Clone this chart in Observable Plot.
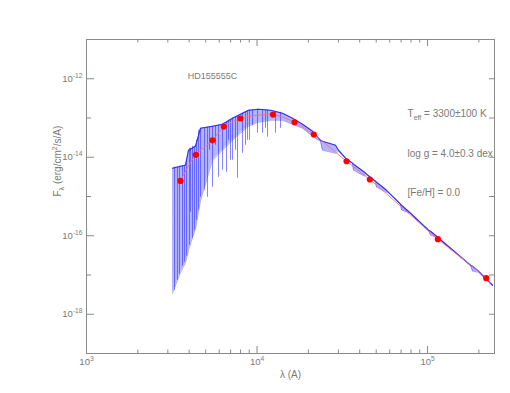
<!DOCTYPE html>
<html>
<head>
<meta charset="utf-8">
<script src="https://cdn.jsdelivr.net/npm/d3@7"></script>
<script src="https://cdn.jsdelivr.net/npm/@observablehq/plot@0.6"></script>
<style>
  html, body { margin: 0; padding: 0; background: #ffffff; }
  #chart svg { display: block; }
</style>
</head>
<body>
<div id="chart"></div>
<script>
// ---------- Model spectrum (upper envelope and lower envelope of the absorption forest), Å and erg/cm²/s/Å
const specWave = [3193, 3559, 3807, 3965, 4359, 4664, 5483, 6277, 7184, 8003, 8917, 10205, 12003, 14112, 16152, 18492, 21165, 22951, 23580, 24228, 28875, 30060, 33040, 36316, 36810, 42710, 43880, 49550, 50230, 57460, 59050, 69440, 70390, 79480, 101370, 104100, 112900, 178700, 183600, 199100, 240500];
const specHigh = [5.25e-15, 5.90e-15, 6.25e-15, 1.51e-14, 1.91e-14, 5.48e-14, 6.17e-14, 6.93e-14, 9.86e-14, 1.247e-13, 1.58e-13, 1.67e-13, 1.58e-13, 1.32e-13, 9.86e-14, 6.93e-14, 4.59e-14, 3.05e-14, 2.71e-14, 2.56e-14, 2.02e-14, 1.51e-14, 9.44e-15, 7.03e-15, 6.64e-15, 4.15e-15, 3.69e-15, 2.45e-15, 2.31e-15, 1.44e-15, 1.28e-15, 6.35e-16, 5.98e-16, 3.74e-16, 1.38e-16, 1.30e-16, 9.71e-17, 1.77e-17, 1.67e-17, 1.25e-17, 5.48e-18];
const specLow  = [3.43e-18, 1.17e-17, 2.11e-17, 4.28e-17, 1.55e-16, 8.02e-16, 8.39e-15, 1.51e-14, 2.71e-14, 4.09e-14, 6.17e-14, 7.80e-14, 8.77e-14, 8.77e-14, 6.93e-14, 5.48e-14, 3.43e-14, 2.71e-14, 2.56e-14, 1.51e-14, 1.26e-14, 1.42e-14, 9.44e-15, 7.03e-15, 4.67e-15, 3.28e-15, 3.69e-15, 2.31e-15, 1.72e-15, 1.28e-15, 1.28e-15, 6.35e-16, 4.47e-16, 3.74e-16, 1.38e-16, 1.03e-16, 9.16e-17, 1.77e-17, 1.25e-17, 1.17e-17, 5.48e-18];

// ---------- Individual strong absorption lines
const lineWave   = [3282, 3418, 3512, 3656, 3757, 3860, 4019, 4074, 4185, 4299, 4419, 4539, 4664, 4922, 5126, 5266, 5483, 5709, 5946, 6277, 6625, 6804, 6992, 7184, 7480, 7686, 8222, 8561, 8797, 9038, 9410, 10068, 10772, 11220, 11524, 12840, 13735];
const lineTop    = [5.57e-15, 5.57e-15, 5.90e-15, 5.90e-15, 6.25e-15, 8.39e-15, 1.70e-14, 1.70e-14, 1.91e-14, 1.91e-14, 2.71e-14, 4.88e-14, 5.48e-14, 5.48e-14, 5.81e-14, 5.81e-14, 6.17e-14, 6.17e-14, 6.53e-14, 6.93e-14, 7.80e-14, 8.77e-14, 8.77e-14, 9.86e-14, 1.045e-13, 1.109e-13, 1.32e-13, 1.40e-13, 1.486e-13, 1.58e-13, 1.58e-13, 1.67e-13, 1.67e-13, 1.58e-13, 1.58e-13, 1.486e-13, 1.40e-13];
const lineBottom = [4.08e-18, 7.35e-18, 1.04e-17, 1.67e-17, 2.11e-17, 3.01e-17, 5.73e-17, 3.97e-16, 8.63e-17, 1.38e-16, 2.48e-16, 4.47e-16, 9.57e-16, 1.44e-15, 9.57e-16, 1.51e-14, 1.72e-15, 2.02e-14, 3.09e-15, 4.67e-15, 4.15e-15, 2.71e-14, 8.39e-15, 8.39e-15, 1.51e-14, 2.92e-15, 1.26e-14, 2.02e-14, 2.71e-14, 2.71e-14, 6.53e-14, 4.09e-14, 4.09e-14, 5.48e-14, 3.24e-14, 4.09e-14, 5.48e-14];

// ---------- Photometry (red dots)
const photWave = [3556, 4375, 5483, 6385, 8000, 12400, 16600, 21530, 33500, 45900, 115000, 221000];
const photFlux = [2.49e-15, 1.15e-14, 2.71e-14, 6.05e-14, 9.7e-14, 1.22e-13, 7.8e-14, 3.8e-14, 7.9e-15, 2.71e-15, 8.2e-17, 8.3e-18];

// ---------- Smooth fitted model (red line)
const modelWave = [3556, 4375, 5483, 6385, 8000, 9934, 12400, 16600, 21530, 33500, 45900, 69440, 115000, 221000, 234100];
const modelFlux = [2.49e-15, 1.15e-14, 2.71e-14, 6.05e-14, 9.7e-14, 1.17e-13, 1.22e-13, 7.8e-14, 3.8e-14, 7.9e-15, 2.71e-15, 5.65e-16, 8.2e-17, 8.3e-18, 5.81e-18];

// ---------- Axes
const xMajor = [1e3, 1e4, 1e5];
const xMajorLabels = ["10^{3}", "10^{4}", "10^{5}"];
const xMinor = [2e3, 3e3, 4e3, 5e3, 6e3, 7e3, 8e3, 9e3, 2e4, 3e4, 4e4, 5e4, 6e4, 7e4, 8e4, 9e4, 2e5];
const yLabelled = [1e-12, 1e-14, 1e-16, 1e-18];
const yLabels = ["10^{-12}", "10^{-14}", "10^{-16}", "10^{-18}"];
const yOther = [1e-19, 1e-17, 1e-15, 1e-13, 1e-11];
const xTitle = "λ (A)";
const yTitle = "F_{λ} (erg/cm^{2}/s/A)";

// ---------- Annotations
const annText = ["HD155555C", "T_{eff} = 3300±100 K", "log g = 4.0±0.3 dex", "[Fe/H] = 0.0"];
const annWave = [5483, 76330, 76330, 76330];
const annFlux = [1.16e-12, 1.247e-13, 1.19e-14, 1.21e-15];
const annSize = [9, 10, 10, 10];
const annAnchor = ["middle", "start", "start", "start"];

// ---------- Build tables
const spec = specWave.map((w, i) => ({w, hi: specHigh[i], lo: specLow[i]}));
const lines = lineWave.map((w, i) => ({w, hi: lineTop[i], lo: lineBottom[i]}));
const phot = photWave.map((w, i) => ({w, f: photFlux[i]}));
const model = modelWave.map((w, i) => ({w, f: modelFlux[i]}));
const ann = annText.map((t, i) => ({t, w: annWave[i], f: annFlux[i], s: annSize[i], a: annAnchor[i]}));

const W = 510, H = 393;
const mL = 86, mR = 16, mT = 39, mB = 40;
const pw = W - mL - mR, ph = H - mT - mB;
const axisColor = "#8a8a8a";
const textColor = "#7a7a7a";

const chart = Plot.plot({
  width: W, height: H,
  marginLeft: mL, marginRight: mR, marginTop: mT, marginBottom: mB,
  x: {type: "log", domain: [1000, 247000], axis: null},
  y: {type: "log", domain: [1e-19, 1e-11], axis: null},
  style: {fontFamily: "'Liberation Sans', Arial, sans-serif", background: "#ffffff", overflow: "visible"},
  marks: [
    Plot.frame({stroke: axisColor, strokeWidth: 1}),
    // bottom ticks
    Plot.ruleX(xMajor, {x: d => d, insetTop: ph - 7, stroke: axisColor}),
    Plot.ruleX(xMinor, {x: d => d, insetTop: ph - 3.5, stroke: axisColor}),
    // top ticks
    Plot.ruleX(xMajor, {x: d => d, insetBottom: ph - 7, stroke: axisColor}),
    Plot.ruleX(xMinor, {x: d => d, insetBottom: ph - 3.5, stroke: axisColor}),
    // left ticks
    Plot.ruleY(yLabelled, {y: d => d, insetRight: pw - 8, stroke: axisColor}),
    Plot.ruleY(yOther, {y: d => d, insetRight: pw - 5, stroke: axisColor}),
    // right ticks
    Plot.ruleY(yLabelled.concat(yOther), {y: d => d, insetLeft: pw - 5, stroke: axisColor}),
    // spectrum
    Plot.areaY(spec, {x: "w", y1: "lo", y2: "hi", fill: "#4646ff", fillOpacity: 0.4}),
    Plot.ruleX(lines, {x: "w", y1: "lo", y2: "hi", stroke: "#2a2aff", strokeOpacity: 0.65, strokeWidth: 0.9}),
    Plot.line(spec, {x: "w", y: "lo", stroke: "#3a3aff", strokeOpacity: 0.55, strokeWidth: 0.8}),
    Plot.line(spec, {x: "w", y: "hi", stroke: "#2b2bff", strokeWidth: 1.1}),
    // model and photometry
    Plot.line(model, {x: "w", y: "f", stroke: "#ff6a6a", strokeOpacity: 0.85, strokeWidth: 1, curve: "catmull-rom"}),
    Plot.dot(phot, {x: "w", y: "f", r: 3.1, fill: "#ff0000", stroke: "none"}),
    // tick labels
    Plot.text(xMajor, {x: d => d, text: (d, i) => xMajorLabels[i], frameAnchor: "bottom", dy: 11, fill: textColor, fontSize: 9.5}),
    Plot.text(yLabelled, {y: d => d, text: (d, i) => yLabels[i], frameAnchor: "left", textAnchor: "end", dx: -4, fill: textColor, fontSize: 9.5}),
    // titles
    Plot.text([xTitle], {text: d => d, frameAnchor: "bottom", dy: 24, fill: textColor, fontSize: 10}),
    Plot.text([yTitle], {text: d => d, frameAnchor: "left", rotate: -90, dx: -29, fill: textColor, fontSize: 10}),
    // annotations
    Plot.text(ann, {x: "w", y: "f", text: "t", fontSize: "s", textAnchor: "start", fill: textColor, filter: d => d.a === "start"}),
    Plot.text(ann, {x: "w", y: "f", text: "t", fontSize: "s", textAnchor: "middle", fill: textColor, filter: d => d.a === "middle"})
  ]
});

// turn ^{..} and _{..} into real superscript / subscript tspans
function richText(node) {
  const s = node.textContent;
  if (!/[\^_]\{/.test(s)) return;
  while (node.firstChild) node.removeChild(node.firstChild);
  const re = /([\^_])\{([^}]*)\}/g;
  let last = 0, m, cur = 0;
  const add = (str, kind) => {
    if (!str) return;
    const ts = document.createElementNS("http://www.w3.org/2000/svg", "tspan");
    ts.textContent = str;
    const d = kind === "^" ? -4 : kind === "_" ? 3 : 0;
    if (d - cur !== 0) ts.setAttribute("dy", d - cur);
    cur = d;
    if (kind) ts.setAttribute("font-size", "70%");
    node.appendChild(ts);
  };
  while ((m = re.exec(s))) {
    add(s.slice(last, m.index), null);
    add(m[2], m[1]);
    last = re.lastIndex;
  }
  add(s.slice(last), null);
}
chart.querySelectorAll("text").forEach(richText);

document.getElementById("chart").appendChild(chart);
</script>
</body>
</html>
